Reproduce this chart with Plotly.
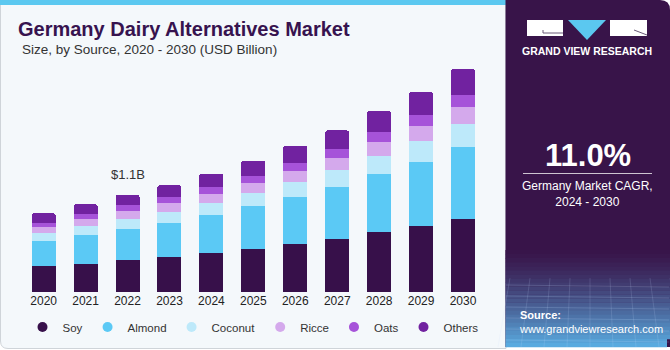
import plotly.graph_objects as go

# ---------------- data ----------------
years = ["2020", "2021", "2022", "2023", "2024", "2025", "2026", "2027", "2028", "2029", "2030"]
soy     = [0.293, 0.323, 0.360, 0.394, 0.439, 0.491, 0.547, 0.603, 0.676, 0.746, 0.829]
almond  = [0.289, 0.319, 0.357, 0.391, 0.428, 0.477, 0.529, 0.585, 0.660, 0.724, 0.807]
coconut = [0.090, 0.101, 0.108, 0.119, 0.135, 0.150, 0.166, 0.188, 0.203, 0.230, 0.259]
ricce   = [0.068, 0.079, 0.090, 0.097, 0.109, 0.113, 0.127, 0.138, 0.158, 0.176, 0.191]
oats    = [0.045, 0.056, 0.064, 0.068, 0.071, 0.082, 0.087, 0.101, 0.113, 0.120, 0.138]
others  = [0.105, 0.113, 0.120, 0.135, 0.154, 0.166, 0.191, 0.207, 0.230, 0.256, 0.289]

series_names = ["Soy", "Almond", "Coconut", "Ricce", "Oats", "Others"]
series_vals = [soy, almond, coconut, ricce, oats, others]
colors = ["#37104a", "#5bc9f5", "#bde9fa", "#d4a9ec", "#a653d9", "#7122a0"]

label_year = "2022"
label_text = "$1.1B"

W, H = 670, 350
def px(x):
    return x / W
def py(y):
    return 1 - y / H

fig = go.Figure()
for name, vals, col in zip(series_names, series_vals, colors):
    fig.add_trace(go.Bar(x=years, y=vals, name=name, marker=dict(color=col, line=dict(width=0)),
                         showlegend=False, hoverinfo="skip"))
for name, col in zip(series_names, colors):
    fig.add_trace(go.Scatter(x=[years[0]], y=[None], mode="markers", name=name,
                             marker=dict(color=col, size=10, symbol="circle"), showlegend=True))

totals = [sum(v) for v in zip(*series_vals)]
idx = years.index(label_year)

panel_bg = "#f4f8fb"
dark = "#381449"

shapes = []
# left panel background with border
shapes.append(dict(type="path", xref="paper", yref="paper", layer="below",
                   path=f"M {px(0.5)} {py(0)} L {px(506)} {py(0)} L {px(506)} {py(348.5)} L {px(8)} {py(348.5)} "
                        f"Q {px(0.5)} {py(348.5)} {px(0.5)} {py(341)} Z",
                   fillcolor=panel_bg, line=dict(color="#cfd4d9", width=1)))
# top blue strip
shapes.append(dict(type="rect", xref="paper", yref="paper", layer="below",
                   x0=px(0), x1=px(506), y0=py(0), y1=py(5), fillcolor="#5bc8f0", line=dict(width=0)))
# right dark panel
shapes.append(dict(type="path", xref="paper", yref="paper", layer="below",
                   path=f"M {px(505.5)} {py(0)} L {px(660)} {py(0)} Q {px(670)} {py(0)} {px(670)} {py(10)} "
                        f"L {px(670)} {py(347)} L {px(505.5)} {py(347)} Z",
                   fillcolor=dark, line=dict(width=0)))
# gradient at bottom of right panel
def lerp(c1, c2, t):
    a = [int(c1[i:i+2], 16) for i in (1, 3, 5)]
    b = [int(c2[i:i+2], 16) for i in (1, 3, 5)]
    return "#" + "".join(f"{round(a[k] + (b[k]-a[k])*t):02x}" for k in range(3))
g0, g1, n = 250, 347, 24
for i in range(n):
    y0 = g0 + (g1 - g0) * i / n
    y1 = g0 + (g1 - g0) * (i + 1) / n
    t = ((i + 0.5) / n) ** 1.3
    shapes.append(dict(type="rect", xref="paper", yref="paper", layer="below",
                       x0=px(505.5), x1=px(670 if y1 < 340 else 667), y0=py(y0), y1=py(y1 + 0.3),
                       fillcolor=lerp(dark, "#5aaee3", t), line=dict(width=0)))
# faint grid lines in gradient
for k in range(6):
    yy = 285 + k * 11
    shapes.append(dict(type="line", xref="paper", yref="paper", layer="below",
                       x0=px(506), x1=px(669), y0=py(yy), y1=py(yy + 2),
                       line=dict(color="rgba(200,220,255,0.18)", width=1)))
for k in range(9):
    xx = 510 + k * 20
    shapes.append(dict(type="line", xref="paper", yref="paper", layer="below",
                       x0=px(xx), x1=px(xx - 12 + k * 3), y0=py(278), y1=py(347),
                       line=dict(color="rgba(200,220,255,0.15)", width=1)))
# logo
shapes.append(dict(type="rect", xref="paper", yref="paper", x0=px(527), x1=px(563), y0=py(20), y1=py(36),
                   fillcolor="white", line=dict(width=0)))
shapes.append(dict(type="path", xref="paper", yref="paper",
                   path=f"M {px(543)} {py(30)} L {px(543)} {py(33)} L {px(563)} {py(33)}",
                   line=dict(color="#6a5a78", width=1)))
shapes.append(dict(type="path", xref="paper", yref="paper",
                   path=f"M {px(568)} {py(20)} L {px(606)} {py(20)} L {px(587)} {py(40)} Z",
                   fillcolor="#5bc8f0", line=dict(width=0)))
shapes.append(dict(type="rect", xref="paper", yref="paper", x0=px(610), x1=px(647), y0=py(20), y1=py(36),
                   fillcolor="white", line=dict(width=0)))
shapes.append(dict(type="path", xref="paper", yref="paper",
                   path=f"M {px(634)} {py(30)} L {px(647)} {py(35)}",
                   line=dict(color="#6a5a78", width=1)))
# divider line under CAGR
shapes.append(dict(type="line", xref="paper", yref="paper", x0=px(523), x1=px(652), y0=py(173.5), y1=py(173.5),
                   line=dict(color="rgba(255,255,255,0.75)", width=1)))

font_main = "Liberation Sans, Arial, sans-serif"
annotations = [
    dict(text="<b>Germany Dairy Alternatives Market</b>", xref="paper", yref="paper", x=px(16), y=py(29),
         xanchor="left", yanchor="middle", showarrow=False, font=dict(size=20, color="#37134f", family=font_main)),
    dict(text="Size, by Source, 2020 - 2030 (USD Billion)", xref="paper", yref="paper", x=px(20), y=py(49),
         xanchor="left", yanchor="middle", showarrow=False, font=dict(size=13.5, color="#333333", family=font_main)),
    dict(text=label_text, x=idx, y=totals[idx], xref="x", yref="y", yanchor="bottom", yshift=11,
         showarrow=False, font=dict(size=13, color="#333333", family=font_main)),
    dict(text="<b>GRAND VIEW RESEARCH</b>", xref="paper", yref="paper", x=px(587), y=py(51.5),
         xanchor="center", yanchor="middle", showarrow=False, font=dict(size=10.5, color="white", family=font_main)),
    dict(text="<b>11.0%</b>", xref="paper", yref="paper", x=px(587.5), y=py(155),
         xanchor="center", yanchor="middle", showarrow=False, font=dict(size=31, color="white", family=font_main)),
    dict(text="Germany Market CAGR,<br>2024 - 2030", xref="paper", yref="paper", x=px(587.5), y=py(194),
         xanchor="center", yanchor="middle", showarrow=False, align="center",
         font=dict(size=12, color="white", family=font_main)),
    dict(text="<b>Source:</b><br>www.grandviewresearch.com", xref="paper", yref="paper", x=px(517), y=py(322),
         xanchor="left", yanchor="middle", showarrow=False, align="left",
         font=dict(size=11, color="white", family=font_main)),
]

fig.update_layout(
    width=W, height=H,
    margin=dict(l=0, r=0, t=0, b=0, autoexpand=False),
    paper_bgcolor="white", plot_bgcolor="rgba(0,0,0,0)",
    barmode="stack", bargap=0.428, barcornerradius=2,
    shapes=shapes, annotations=annotations,
    font=dict(family=font_main, size=12, color="#333333"),
    legend=dict(orientation="h", x=px(253), xanchor="center", y=py(327), yanchor="middle",
                traceorder="normal",
                font=dict(size=11.5, color="#333333"), bgcolor="rgba(0,0,0,0)", itemwidth=30),
    xaxis=dict(type="category", categoryorder="array", categoryarray=years,
               range=[-0.5, len(years) - 0.5], autorange=False,
               domain=[px(22.7), px(484)], showgrid=False, zeroline=False, showline=False,
               ticks="", tickfont=dict(size=12, color="#222222"), fixedrange=True),
    yaxis=dict(domain=[py(292.3), py(60)], range=[0, 2.615], visible=False, fixedrange=True),
)

fig.write_html("out.html")
